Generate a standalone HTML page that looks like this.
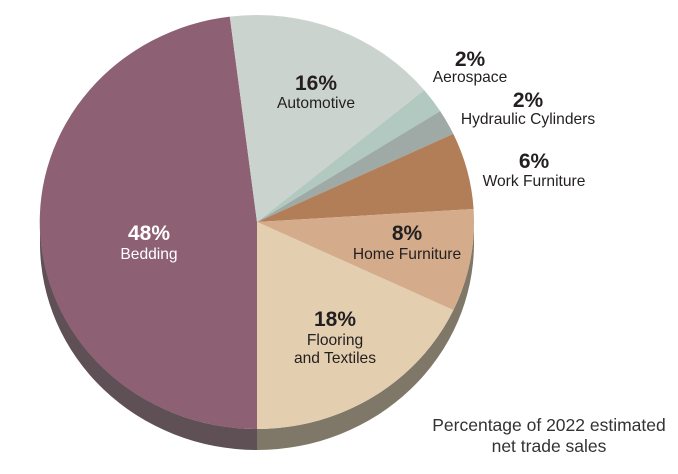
<!DOCTYPE html>
<html><head><style>body{margin:0;background:#fff}svg{display:block}text{font-family:"Liberation Sans",sans-serif;fill:#231f20;text-anchor:middle}.p{font-weight:bold;font-size:21px}.l{font-size:15.6px}.w{fill:#fff}</style></head><body>
<svg width="678" height="474" viewBox="0 0 678 474">
<path d="M40,222 L40,243 A217,207 0 0 0 257,450 L257,429 A217,207 0 0 1 40,222Z" fill="#5e5055"/>
<path d="M257,429 L257,450 A217,207 0 0 0 474,243 L474,222 A217,207 0 0 1 257,429Z" fill="#7f7868"/>
<path d="M257,222 L257,429 A217,207 0 0 1 229.8,16.6Z" fill="#8e6074"/>
<path d="M257,222 L229.8,16.6 A217,207 0 0 1 424.2,90.1Z" fill="#cbd3cf"/>
<path d="M257,222 L424.2,90.1 A217,207 0 0 1 440.2,111.1Z" fill="#b1c9c0"/>
<path d="M257,222 L440.2,111.1 A217,207 0 0 1 453.3,133.9Z" fill="#9fa9a5"/>
<path d="M257,222 L453.3,133.9 A217,207 0 0 1 473.6,209Z" fill="#b17e57"/>
<path d="M257,222 L473.6,209 A217,207 0 0 1 453.3,310.1Z" fill="#d4ac8c"/>
<path d="M257,222 L453.3,310.1 A217,207 0 0 1 257,429Z" fill="#e3cfaf"/>
<text x="316" y="90" class="p">16%</text><text x="316" y="108" class="l">Automotive</text>
<text x="149" y="240" class="p w">48%</text><text x="149" y="259" class="l w">Bedding</text>
<text x="407" y="240" class="p">8%</text><text x="407" y="259" class="l">Home Furniture</text>
<text x="335" y="326" class="p">18%</text><text x="335" y="345" class="l">Flooring</text><text x="335" y="363" class="l">and Textiles</text>
<text x="470" y="66" class="p">2%</text><text x="470" y="82" class="l">Aerospace</text>
<text x="528" y="107" class="p">2%</text><text x="528" y="124" class="l">Hydraulic Cylinders</text>
<text x="534" y="168" class="p">6%</text><text x="534" y="186" class="l">Work Furniture</text>
<text x="549" y="431" style="font-size:17.5px;fill:#333">Percentage of 2022 estimated</text>
<text x="549" y="452" style="font-size:17.5px;fill:#333">net trade sales</text>
</svg></body></html>
